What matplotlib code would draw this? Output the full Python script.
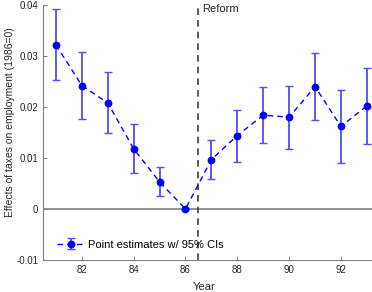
import matplotlib.pyplot as plt

years = [81, 82, 83, 84, 85, 86, 87, 88, 89, 90, 91, 92, 93]
estimates = [0.0322, 0.0242, 0.0208, 0.0118, 0.0053, 0.0, 0.0097, 0.0144, 0.0184, 0.0180, 0.0240, 0.0162, 0.0202]
ci_upper = [0.0392, 0.0307, 0.0268, 0.0166, 0.0082, 0.0, 0.0135, 0.0195, 0.0239, 0.0241, 0.0306, 0.0233, 0.0277]
ci_lower = [0.0253, 0.0177, 0.0149, 0.0070, 0.0025, 0.0, 0.0059, 0.0092, 0.0129, 0.0118, 0.0175, 0.0091, 0.0127]
reform_year = 86.5

plt.rcParams['font.family'] = ['Liberation Sans', 'DejaVu Sans']
plt.rcParams['font.size'] = 7

err_low = [e - l for e, l in zip(estimates, ci_lower)]
err_high = [u - e for e, u in zip(estimates, ci_upper)]

fig = plt.figure(figsize=(3.72, 2.92), dpi=100)
ax = fig.add_axes([0.1156, 0.1096, 0.8844, 0.8733])

ax.axhline(0, color='#808080', lw=1.2, zorder=1)
ax.axvline(reform_year, color='#404040', lw=1.2, ls=(0, (4, 3)), zorder=1)
ax.text(reform_year + 0.15, 0.0393, 'Reform', fontsize=8, color='#262626', va='center')

ax.errorbar(years, estimates, yerr=[err_low, err_high], fmt='o', color='#0000ff',
            ecolor='#4d4dff', elinewidth=1.3, capsize=3, capthick=1.0, ms=4.6,
            ls=(0, (4, 3)), lw=1.0, label='Point estimates w/ 95% CIs', zorder=3)

ax.set_xlim(80.5, 93.2)
ax.set_ylim(-0.01, 0.04)
ax.set_xticks([82, 84, 86, 88, 90, 92])
ax.set_yticks([-0.01, 0, 0.01, 0.02, 0.03, 0.04])
ax.set_yticklabels(['-0.01', '0', '0.01', '0.02', '0.03', '0.04'])
ax.set_xlabel('Year', fontsize=8, color='#262626')
ax.set_ylabel('Effects of taxes on employment (1986=0)', fontsize=7.5, color='#262626')
ax.xaxis.set_label_coords(0.49, -0.085)
ax.yaxis.set_label_coords(-0.085, 0.54)

for s in ['top', 'right']:
    ax.spines[s].set_visible(False)
for s in ['left', 'bottom']:
    ax.spines[s].set_color('#808080')
ax.tick_params(direction='in', length=3, color='#808080', labelcolor='#262626')

ax.legend(loc='lower left', frameon=False, fontsize=8, handlelength=2.4,
          handletextpad=0.4, bbox_to_anchor=(0.02, 0.01), borderaxespad=0.3)

fig.savefig('out.png', dpi=100)
